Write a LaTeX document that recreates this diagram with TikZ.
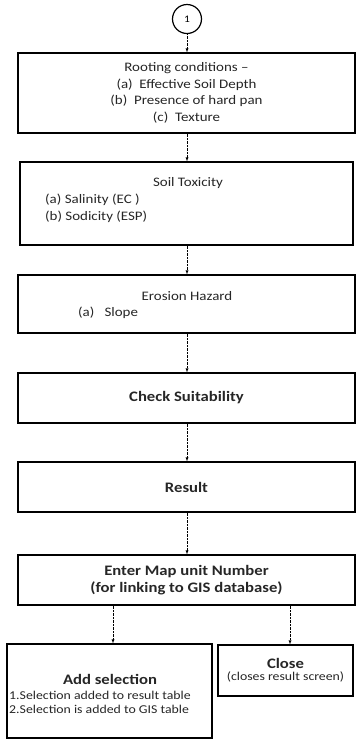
\documentclass[tikz,border=0pt]{standalone}
\usepackage{fontspec}
\setmainfont[FakeStretch=1.15]{Carlito}
\usetikzlibrary{arrows}

\tikzset{
  blk/.style={draw, line width=1.2pt, inner sep=0pt, align=center, text=black!85},
  lbl/.style={inner sep=0pt, text=black!85},
  txt/.style={font=\fontsize{13}{16.5}\selectfont},
  ttl/.style={font=\fontsize{14.5}{17}\selectfont\bfseries},
  sml/.style={font=\fontsize{12}{14}\selectfont},
  arr/.style={->, >=latex, densely dotted, thin}
}

\begin{document}
\begin{tikzpicture}[x=1pt, y=-1pt]
  \useasboundingbox (0,0) rectangle (360,740);
  \node[draw, circle, line width=1.2pt, minimum size=29pt, inner sep=0pt, font=\fontsize{10}{10}\selectfont] (one) at (187,19) {1};
  \node[blk, txt, minimum width=337pt, minimum height=80pt] (rooting) at (186.5,93) {Rooting conditions --\\(a)\ \ Effective Soil Depth\\(b)\ \ Presence of hard pan\\(c)\ \ Texture};
  \node[blk, minimum width=333pt, minimum height=83pt] (toxicity) at (186.5,203.5) {};
  \node[lbl, txt] (toxtitle) at (188,183) {Soil Toxicity};
  \node[lbl, txt, anchor=west, align=left] (toxlist) at (45,208.5) {(a) Salinity (EC )\\(b) Sodicity (ESP)};
  \node[blk, minimum width=337pt, minimum height=58pt] (erosion) at (186.5,304) {};
  \node[lbl, txt] (erotitle) at (187,296) {Erosion Hazard};
  \node[lbl, txt, anchor=west] (eroslope) at (78,313) {(a)\ \ \ Slope};
  \node[blk, ttl, minimum width=337pt, minimum height=50pt] (suit) at (186.5,398) {Check Suitability};
  \node[blk, ttl, minimum width=337pt, minimum height=50pt] (result) at (186.5,487) {Result};
  \node[blk, ttl, minimum width=337pt, minimum height=50pt] (mapunit) at (186.5,580) {Enter Map unit Number\\(for linking to GIS database)};
  \node[blk, minimum width=205pt, minimum height=94pt] (addsel) at (109.5,691) {};
  \node[lbl, ttl] (addtitle) at (110,679) {Add selection};
  \node[lbl, sml, anchor=west, align=left] (addlist) at (9,702) {1.Selection added to result table\\2.Selection is added to GIS table};
  \node[blk, minimum width=135pt, minimum height=51pt] (close) at (285.5,670.5) {{\fontsize{14.5}{16}\selectfont\bfseries Close}\\{\fontsize{12}{14}\selectfont (closes result screen)}};

  \draw[arr] (one.south) -- (one.south |- rooting.north);
  \draw[arr] (rooting.south -| one) -- (toxicity.north -| one);
  \draw[arr] (toxicity.south -| one) -- (erosion.north -| one);
  \draw[arr] (erosion.south -| one) -- (suit.north -| one);
  \draw[arr] (suit.south -| one) -- (result.north -| one);
  \draw[arr] (result.south -| one) -- (mapunit.north -| one);
  \draw[arr] ([xshift=3.5pt]mapunit.south -| addsel.north) -- ([xshift=3.5pt]addsel.north);
  \draw[arr] ([xshift=4.5pt]mapunit.south -| close.north) -- ([xshift=4.5pt]close.north);
\end{tikzpicture}
\end{document}
